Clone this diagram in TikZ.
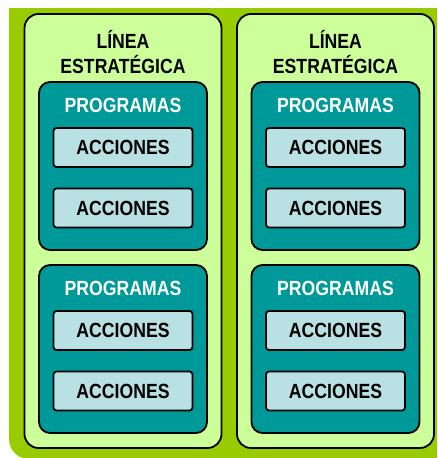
\documentclass[tikz,border=0pt]{standalone}
\usepackage{fontspec}
\setmainfont{Liberation Sans}[FakeStretch=0.86]

\definecolor{fondoVerde}{HTML}{99CC00}
\definecolor{verdeClaro}{HTML}{CCFF99}
\definecolor{azulPetroleo}{HTML}{009999}
\definecolor{celeste}{HTML}{B9E0E2}

\def\textoCaja{\fontsize{20.5}{25}\selectfont\bfseries}

\tikzset{
    linea/.style={draw=black, line width=1.8pt, fill=verdeClaro, rounded corners=14pt,
        minimum width=197pt, minimum height=434pt, inner sep=0pt},
    programa/.style={draw=black, line width=1.8pt, fill=azulPetroleo, rounded corners=11pt,
        minimum width=168pt, minimum height=168pt, inner sep=0pt},
    accion/.style={draw=black, line width=1.8pt, fill=celeste, rounded corners=3pt,
        minimum width=139pt, minimum height=39pt, inner sep=0pt, font=\textoCaja},
    titulo/.style={font=\textoCaja, align=center, inner sep=0pt}
}

\begin{document}
\begin{tikzpicture}[x=1pt,y=-1pt]
            \useasboundingbox (0,0) rectangle (437,458);

            % fondo
            \begin{scope}
                \clip (0,8) rectangle (437,458);
                \fill [fondoVerde, rounded corners=20pt] (9,-40) rectangle (480,459);
            \end{scope}

            \foreach \col/\cx in {1/123,2/335.5}{%
                    \node [linea] (linea\col) at (\cx,231) {};
                    \node [titulo] (titulo\col) at (\cx,52) {LÍNEA\\ESTRATÉGICA};

                    \foreach \prog/\py in {1/166,2/349}{%
                            \node [programa] (prog\col\prog) at (\cx,\py) {};
                            \node [titulo, text=white] (progtit\col\prog) at (\cx,\py-61) {PROGRAMAS};
                            \node [accion] (accion\col\prog a) at (\cx,\py-18.5) {ACCIONES};
                            \node [accion] (accion\col\prog b) at (\cx,\py+42) {ACCIONES};
                        }
                }

        \end{tikzpicture}
\end{document}
